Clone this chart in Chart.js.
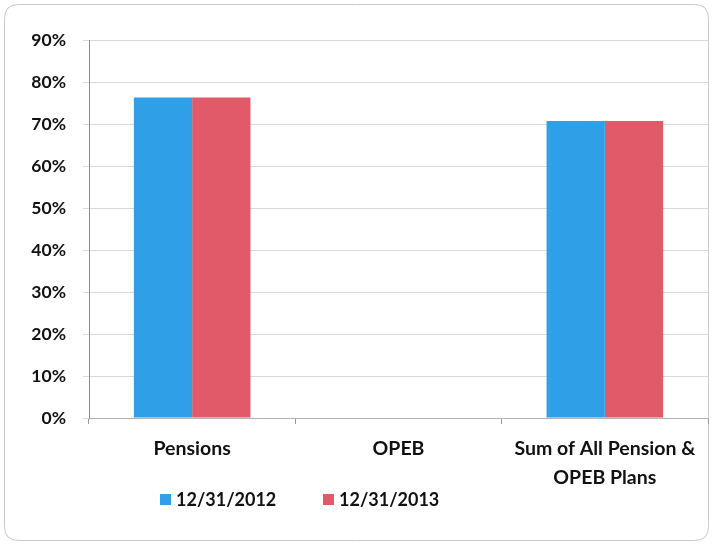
<!DOCTYPE html>
<html>
<head>
<meta charset="utf-8">
<script src="https://cdn.jsdelivr.net/npm/chart.js@4/dist/chart.umd.min.js"></script>
<style>
html,body{margin:0;padding:0;background:#ffffff;}
#wrap{position:relative;width:717px;height:546px;}
</style>
</head>
<body>
<div id="wrap"><canvas id="c" width="717" height="546"></canvas></div>
<script>
const categories = [["Pensions"], ["OPEB"], ["Sum of All Pension &", "OPEB Plans"]];
const seriesNames = ["12/31/2012", "12/31/2013"];
const values2012 = [76.3, 0, 70.7];
const values2013 = [76.3, 0, 70.7];
const yTicks = [0, 10, 20, 30, 40, 50, 60, 70, 80, 90];
const colors = ["#2f9fe8", "#e05a6a"];

const FONT = "Lato, 'Open Sans', sans-serif";

const borderPlugin = {
  id: 'frame',
  beforeDraw(chart) {
    const ctx = chart.ctx;
    ctx.save();
    ctx.fillStyle = '#ffffff';
    ctx.fillRect(0, 0, chart.width, chart.height);
    ctx.strokeStyle = '#c8c8c8';
    ctx.lineWidth = 1;
    const x = 4.5, y = 4.5, w = 704, h = 536, r = 14;
    ctx.beginPath();
    ctx.moveTo(x + r, y);
    ctx.lineTo(x + w - r, y);
    ctx.quadraticCurveTo(x + w, y, x + w, y + r);
    ctx.lineTo(x + w, y + h - r);
    ctx.quadraticCurveTo(x + w, y + h, x + w - r, y + h);
    ctx.lineTo(x + r, y + h);
    ctx.quadraticCurveTo(x, y + h, x, y + h - r);
    ctx.lineTo(x, y + r);
    ctx.quadraticCurveTo(x, y, x + r, y);
    ctx.stroke();
    ctx.restore();
  }
};

const legendPlugin = {
  id: 'customLegend',
  afterDraw(chart) {
    const ctx = chart.ctx;
    ctx.save();
    ctx.font = "bold 18px " + FONT;
    ctx.textBaseline = 'middle';
    ctx.fillStyle = '#111111';
    const y = 499;
    const starts = [160, 323];
    chart.data.datasets.forEach((ds, i) => {
      const x = starts[i];
      ctx.fillStyle = ds.backgroundColor;
      ctx.fillRect(x, y - 5, 11, 11);
      ctx.fillStyle = '#111111';
      ctx.fillText(ds.label, x + 16, y + 1);
    });
    ctx.restore();
  }
};

new Chart(document.getElementById('c'), {
  type: 'bar',
  data: {
    labels: categories,
    datasets: [
      { label: seriesNames[0], data: values2012, backgroundColor: colors[0], borderWidth: 0 },
      { label: seriesNames[1], data: values2013, backgroundColor: colors[1], borderWidth: 0 }
    ]
  },
  options: {
    responsive: false,
    animation: false,
    devicePixelRatio: 1,
    layout: { padding: { top: 40, right: 9, left: 0, bottom: 0 } },
    plugins: {
      legend: { display: false },
      tooltip: { enabled: false }
    },
    datasets: { bar: { categoryPercentage: 0.565, barPercentage: 1.0 } },
    scales: {
      x: {
        grid: { drawOnChartArea: false, drawTicks: true, tickLength: 6, color: '#999999', offset: true },
        border: { color: '#b0b0b0' },
        ticks: { color: '#111111', font: { family: FONT, size: 19.5, weight: 'bold', lineHeight: 1.45 }, padding: 11, maxRotation: 0, autoSkip: false },
        afterFit(scale) { scale.height = 128; }
      },
      y: {
        min: 0, max: 90,
        afterBuildTicks(scale) { scale.ticks = yTicks.map(v => ({ value: v })); },
        grid: { color: '#d9d9d9', tickLength: 6, drawTicks: true },
        border: { color: '#8a8a8a' },
        ticks: {
          color: '#111111',
          font: { family: FONT, size: 17.5, weight: 'bold' },
          padding: 17,
          callback: v => v + '%'
        },
        afterFit(scale) { scale.width = 89; }
      }
    }
  },
  plugins: [borderPlugin, legendPlugin]
});
</script>
</body>
</html>
